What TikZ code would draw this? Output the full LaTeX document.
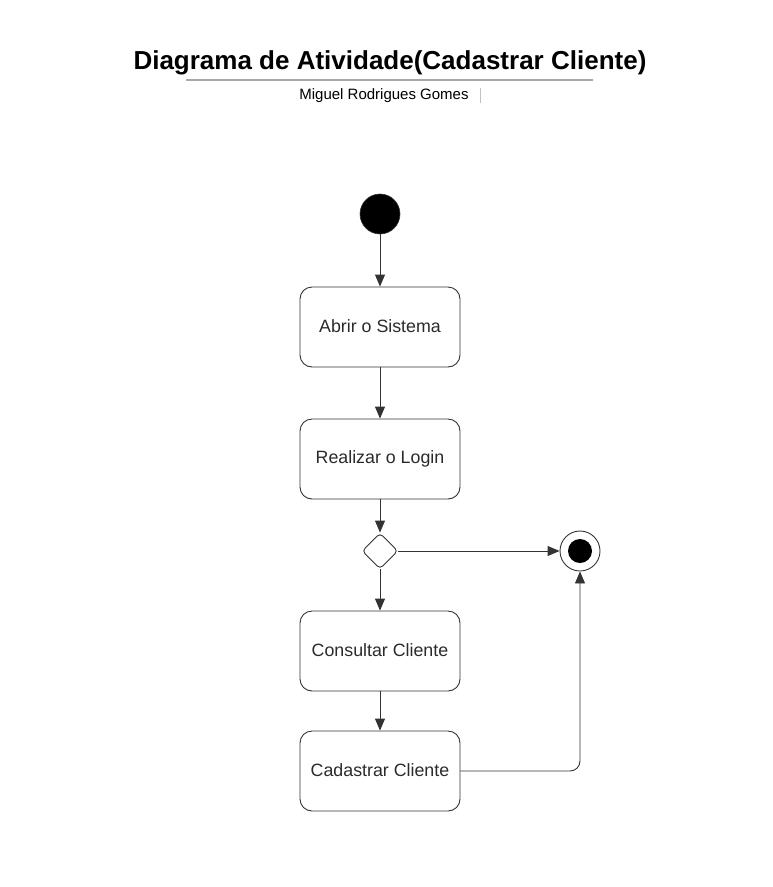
\documentclass[tikz,border=0pt]{standalone}
\usepackage{fontspec}
\setmainfont{Liberation Sans}
\usetikzlibrary{arrows.meta,shapes.geometric}
\definecolor{linec}{HTML}{333333}
\definecolor{txtc}{HTML}{2A2A2A}
\definecolor{rulec}{HTML}{A3A7AF}
\newcommand{\boxtxt}[1]{\raisebox{2.5pt}{#1}}
\begin{document}
\begin{tikzpicture}[x=1pt,y=-1pt,
  actbox/.style={draw=linec,line width=0.9pt,rounded corners=12pt,minimum width=160pt,minimum height=80pt,inner sep=0pt,text=txtc,font=\fontsize{17.8}{20}\selectfont},
  flow/.style={draw=linec,line width=0.9pt,-{Triangle[length=12pt,width=10pt]}},
  decis/.style={draw=linec,line width=0.9pt,diamond,minimum width=36pt,minimum height=36pt,inner sep=0pt,rounded corners=4pt}
]
\useasboundingbox (0,0) rectangle (773,887);
\node[font=\bfseries\fontsize{26}{30}\selectfont] (title) at (390,63) {Diagrama de Atividade(Cadastrar Cliente)};
\coordinate (rl) at (186,80);
\coordinate (rr) at (593,80);
\draw[rulec,line width=1.5pt] (rl) -- (rr);
\node[font=\fontsize{15}{18}\selectfont] (author) at (384,96) {Miguel Rodrigues Gomes};
\coordinate (bt) at (480,88);
\coordinate (bb) at (480,103);
\draw[rulec!70,line width=0.8pt] (bt) -- (bb);

\node[circle,fill=black,draw=linec,line width=0.6pt,minimum size=40pt,inner sep=0pt] (start) at (380,214) {};
\node[actbox] (b1) at (380,327) {\boxtxt{Abrir o Sistema}};
\node[actbox] (b2) at (380,459) {\boxtxt{Realizar o Login}};
\node[decis] (d) at (380,551) {};
\node[actbox] (b3) at (380,651) {\boxtxt{Consultar Cliente}};
\node[actbox] (b4) at (380,771) {\boxtxt{Cadastrar Cliente}};
\node[circle,draw=linec,line width=0.9pt,minimum size=40pt,inner sep=0pt] (endo) at (580,551) {};
\node[circle,fill=black,minimum size=24pt,inner sep=0pt] (endi) at (580,551) {};

\draw[flow] (start) -- (b1);
\draw[flow] (b1) -- (b2);
\draw[flow] (b2) -- (d);
\draw[flow] (d) -- (endo);
\draw[flow] (d) -- (b3);
\draw[flow] (b3) -- (b4);
\draw[flow,rounded corners=10pt] (b4.east) -| (endo.south);
\end{tikzpicture}
\end{document}
